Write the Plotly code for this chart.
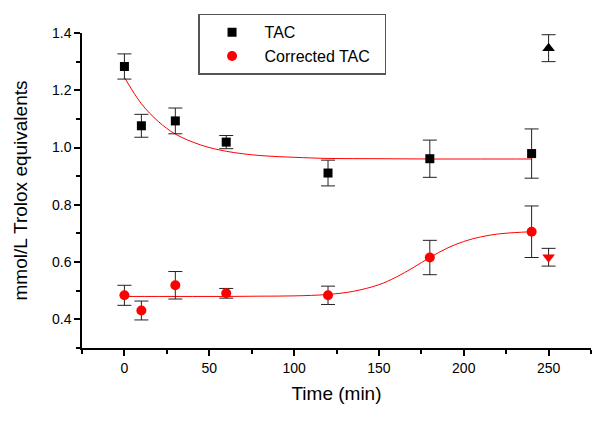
import plotly.graph_objects as go

# Measured data
time_min = [0, 10, 30, 60, 120, 180, 240]
tac = [1.283, 1.076, 1.093, 1.019, 0.911, 0.961, 0.979]
tac_err = [0.044, 0.040, 0.045, 0.023, 0.045, 0.065, 0.086]
corr_tac = [0.484, 0.431, 0.519, 0.491, 0.484, 0.616, 0.706]
corr_err = [0.035, 0.033, 0.048, 0.017, 0.032, 0.060, 0.090]

# Separate points at 250 min
extra_x = [250]
tac_extra = [1.347]
tac_extra_err = [0.047]
corr_extra = [0.617]
corr_extra_err = [0.031]

# Fitted curves
fit_tac_x = [0, 10, 20, 30, 45, 60, 80, 100, 120, 150, 180, 210, 240]
fit_tac_y = [1.245, 1.153, 1.091, 1.047, 1.009, 0.987, 0.972, 0.966, 0.962, 0.961, 0.960, 0.960, 0.960]
fit_corr_x = [0, 20, 40, 60, 80, 100, 120, 135, 150, 160, 170, 180, 190, 200, 210, 220, 230, 240]
fit_corr_y = [0.480, 0.480, 0.480, 0.480, 0.481, 0.482, 0.487, 0.498, 0.521, 0.547, 0.580, 0.616,
              0.648, 0.672, 0.688, 0.698, 0.703, 0.706]

x_ticks = [0, 50, 100, 150, 200, 250]
y_ticks = [0.4, 0.6, 0.8, 1.0, 1.2, 1.4]

FONT = "Liberation Sans, Arial, sans-serif"
err_style = dict(type="data", thickness=1, width=7, color="#222222")

fig = go.Figure()

fig.add_trace(go.Scatter(x=fit_tac_x, y=fit_tac_y, mode="lines", line=dict(color="red", width=1, shape="spline"),
                         showlegend=False, hoverinfo="skip"))
fig.add_trace(go.Scatter(x=fit_corr_x, y=fit_corr_y, mode="lines", line=dict(color="red", width=1, shape="spline"),
                         showlegend=False, hoverinfo="skip"))

fig.add_trace(go.Scatter(x=time_min, y=tac, mode="markers", name="TAC",
                         marker=dict(symbol="square", size=9, color="black"),
                         error_y=dict(array=tac_err, **err_style)))
fig.add_trace(go.Scatter(x=time_min, y=corr_tac, mode="markers", name="Corrected TAC\u00a0\u00a0",
                         marker=dict(symbol="circle", size=10, color="red"),
                         error_y=dict(array=corr_err, **err_style)))
fig.add_trace(go.Scatter(x=extra_x, y=tac_extra, mode="markers", showlegend=False,
                         marker=dict(symbol="triangle-up", size=11, color="black"),
                         error_y=dict(array=tac_extra_err, **err_style)))
fig.add_trace(go.Scatter(x=extra_x, y=corr_extra, mode="markers", showlegend=False,
                         marker=dict(symbol="triangle-down", size=11, color="red"),
                         error_y=dict(array=corr_extra_err, **err_style)))

fig.update_layout(
    width=600, height=421,
    margin=dict(l=82, r=9, t=33, b=73, autoexpand=False),
    paper_bgcolor="white", plot_bgcolor="white",
    font=dict(family=FONT, color="black", size=14),
    legend=dict(x=0.228, y=1.061, xanchor="left", yanchor="top",
                bordercolor="#555555", borderwidth=1.5, bgcolor="white",
                font=dict(size=16, family=FONT), tracegroupgap=0, itemwidth=55),
    xaxis=dict(range=[-25, 275], showgrid=False, zeroline=False, showline=True, linecolor="black", linewidth=2,
               automargin=False,
               tickmode="array", tickvals=x_ticks, ticks="outside", ticklen=6, tickwidth=1.5, tickcolor="black",
               minor=dict(tickmode="array", tickvals=[-25, 25, 75, 125, 175, 225, 275], ticks="outside",
                          ticklen=4, tickwidth=1.5, tickcolor="black"),
               title=dict(text="Time (min)", font=dict(size=19, family=FONT), standoff=12),
               tickfont=dict(size=14, family=FONT)),
    yaxis=dict(range=[0.3, 1.4], showgrid=False, zeroline=False, showline=True, linecolor="black", linewidth=1.5,
               automargin=False,
               tickmode="array", tickvals=y_ticks, ticktext=["0.4", "0.6", "0.8", "1.0", "1.2", "1.4"],
               ticks="outside", ticklen=6, tickwidth=1.5, tickcolor="black",
               minor=dict(tickmode="array", tickvals=[0.3, 0.5, 0.7, 0.9, 1.1, 1.3], ticks="outside",
                          ticklen=4, tickwidth=1.5, tickcolor="black"),
               title=dict(text="mmol/L Trolox equivalents", font=dict(size=19, family=FONT), standoff=19),
               tickfont=dict(size=14, family=FONT)),
)

fig.write_html("out.html", config={"displayModeBar": False},
               post_script="document.body.style.margin='0';")
